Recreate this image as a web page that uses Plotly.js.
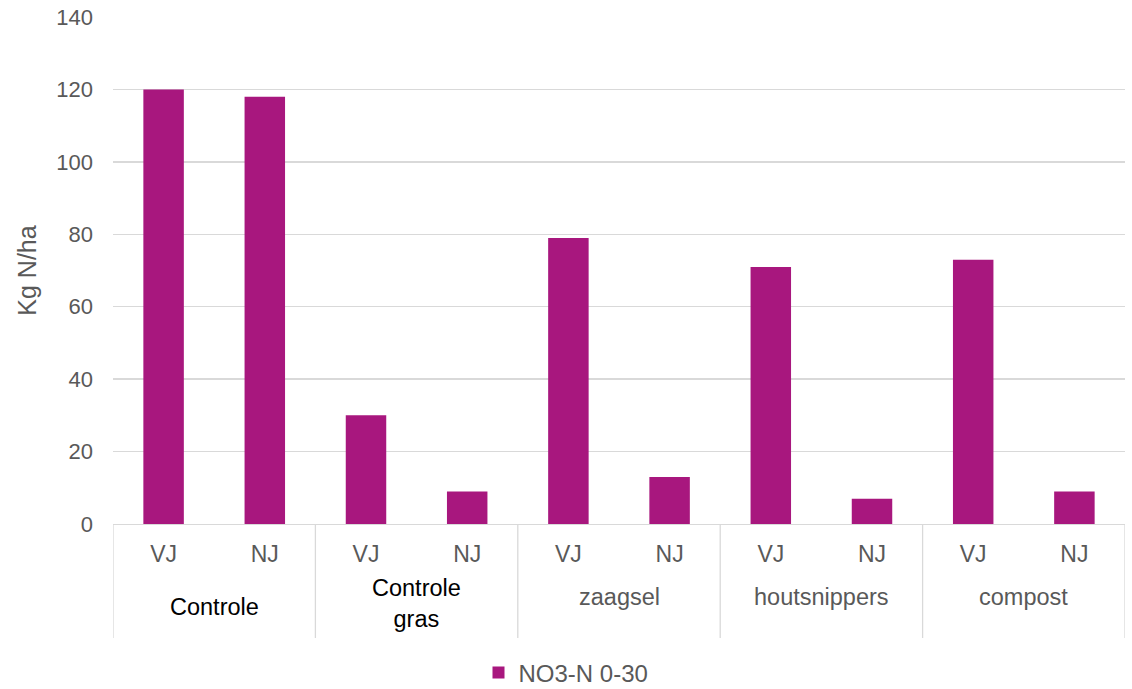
<!DOCTYPE html>
<html>
<head>
<meta charset="utf-8">
<script src="https://cdn.plot.ly/plotly-3.0.1.min.js"></script>
<style>html,body{margin:0;padding:0;background:#fff;}#chart{width:1132px;height:689px;}</style>
</head>
<body>
<div id="chart"></div>
<script>
// Data
const groups = ["Controle", "Controle<br>gras", "zaagsel", "houtsnippers", "compost"];
const groupColors = ["#000000", "#000000", "#595959", "#595959", "#595959"];
const subLabels = ["VJ", "NJ"];
const seriesName = "NO3-N 0-30";
const values = [120, 118, 30, 9, 79, 13, 71, 7, 73, 9];

// Build positions
const xs = [], tickText = [];
groups.forEach((g, gi) => subLabels.forEach((s, si) => { xs.push(gi * subLabels.length + si); tickText.push(s); }));

const font = "Liberation Sans, Arial, sans-serif";
const grey = "#595959";
const lineCol = "#D9D9D9";

const plotTop = 17, plotBottom = 524, plotH = plotBottom - plotTop;
const pix2paper = p => (plotBottom - p) / plotH;

const shapes = [];
for (let g = 0; g <= groups.length; g++) {
  shapes.push({type: "line", xref: "x", yref: "paper", x0: g * 2 - 0.5, x1: g * 2 - 0.5,
    y0: 0, y1: pix2paper(638), line: {color: lineCol, width: 1.3}});
}
const groupY = [607, 603, 597, 597, 597];
const annotations = groups.map((g, gi) => ({
  x: gi * 2 + 0.5, xref: "x", yref: "paper", y: pix2paper(groupY[gi]), yanchor: "middle",
  text: g, showarrow: false, font: {family: font, size: 23.5, color: groupColors[gi]}
}));

Plotly.newPlot("chart", [{
  type: "bar", x: xs, y: values, name: seriesName,
  marker: {color: "#A8177E"}, showlegend: true
}], {
  width: 1132, height: 689,
  margin: {l: 113, r: 7, t: plotTop, b: 689 - plotBottom},
  paper_bgcolor: "#fff", plot_bgcolor: "#fff",
  bargap: 0.6,
  font: {family: font, size: 20, color: grey},
  xaxis: {range: [-0.5, 9.5], tickvals: xs, ticktext: tickText, showgrid: false,
    zeroline: false, showline: true, linecolor: lineCol, linewidth: 1.3, ticks: "",
    ticklabelstandoff: 9, tickfont: {family: font, size: 23, color: grey}, fixedrange: true},
  yaxis: {range: [0, 140], dtick: 20, showgrid: true, gridcolor: lineCol, gridwidth: 1.3,
    zeroline: false, showline: false, ticks: "", ticklabelstandoff: 19,
    tickfont: {family: font, size: 22, color: grey},
    title: {text: "Kg N/ha", font: {family: font, size: 25, color: grey}, standoff: 12}},
  shapes: shapes,
  annotations: annotations,
  showlegend: true,
  legend: {orientation: "h", xref: "container", yref: "container", x: 0.5, xanchor: "center",
    y: 1 - 673 / 689, yanchor: "middle", itemwidth: 30,
    font: {family: font, size: 24, color: grey}}
}, {displayModeBar: false, staticPlot: true});
</script>
</body>
</html>
